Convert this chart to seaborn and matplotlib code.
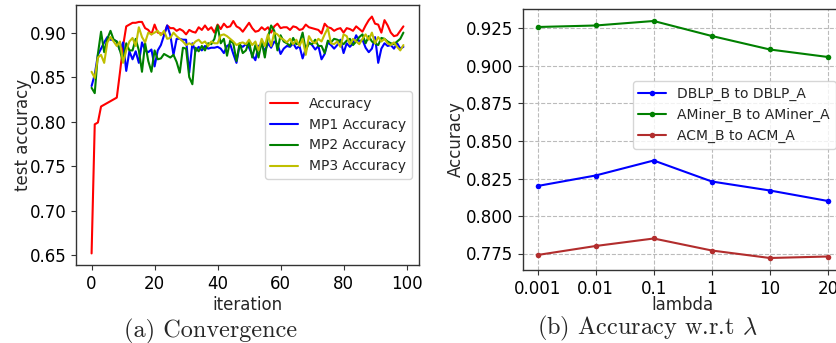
import numpy as np
import pandas as pd
import matplotlib
matplotlib.use("Agg")
import matplotlib.pyplot as plt
import seaborn as sns

# ==================================================
#* Dados
# ==================================================
iteracoes = list(range(100))

acc = [0.652, 0.797, 0.799, 0.817, 0.819, 0.821, 0.823, 0.825, 0.827, 0.855,
       0.885, 0.907, 0.909, 0.911, 0.911, 0.912, 0.912, 0.905, 0.903, 0.898,
       0.909, 0.900, 0.899, 0.898, 0.908, 0.905, 0.905, 0.902, 0.904, 0.902,
       0.898, 0.903, 0.901, 0.900, 0.906, 0.903, 0.908, 0.903, 0.906, 0.900,
       0.909, 0.904, 0.910, 0.906, 0.907, 0.913, 0.907, 0.905, 0.901, 0.906,
       0.911, 0.905, 0.901, 0.902, 0.906, 0.903, 0.906, 0.900, 0.907, 0.910,
       0.905, 0.906, 0.906, 0.903, 0.907, 0.906, 0.903, 0.904, 0.909, 0.906,
       0.905, 0.904, 0.903, 0.899, 0.910, 0.906, 0.905, 0.902, 0.904, 0.905,
       0.900, 0.905, 0.904, 0.902, 0.907, 0.904, 0.901, 0.908, 0.914, 0.918,
       0.910, 0.909, 0.900, 0.914, 0.908, 0.900, 0.896, 0.897, 0.902, 0.907]

mp1 = [0.840, 0.853, 0.875, 0.882, 0.889, 0.895, 0.892, 0.892, 0.890, 0.880,
       0.889, 0.857, 0.879, 0.870, 0.879, 0.866, 0.889, 0.880, 0.878, 0.881,
       0.862, 0.880, 0.886, 0.897, 0.908, 0.897, 0.875, 0.893, 0.893, 0.892,
       0.892, 0.855, 0.888, 0.879, 0.884, 0.880, 0.885, 0.882, 0.883, 0.883,
       0.884, 0.882, 0.877, 0.885, 0.887, 0.876, 0.866, 0.886, 0.884, 0.887,
       0.883, 0.875, 0.869, 0.885, 0.887, 0.879, 0.888, 0.883, 0.890, 0.887,
       0.876, 0.882, 0.885, 0.884, 0.888, 0.882, 0.885, 0.871, 0.882, 0.889,
       0.886, 0.881, 0.885, 0.870, 0.876, 0.889, 0.886, 0.882, 0.886, 0.892,
       0.877, 0.888, 0.884, 0.888, 0.897, 0.890, 0.892, 0.883, 0.878, 0.882,
       0.895, 0.866, 0.882, 0.888, 0.885, 0.886, 0.882, 0.888, 0.882, 0.884]

mp2 = [0.838, 0.832, 0.876, 0.901, 0.878, 0.893, 0.902, 0.892, 0.890, 0.880,
       0.867, 0.888, 0.880, 0.880, 0.893, 0.880, 0.856, 0.888, 0.868, 0.856,
       0.880, 0.870, 0.871, 0.876, 0.874, 0.872, 0.875, 0.867, 0.855, 0.883,
       0.882, 0.850, 0.842, 0.883, 0.879, 0.885, 0.880, 0.888, 0.887, 0.893,
       0.908, 0.888, 0.893, 0.874, 0.891, 0.888, 0.868, 0.888, 0.877, 0.880,
       0.890, 0.872, 0.886, 0.872, 0.890, 0.872, 0.895, 0.908, 0.902, 0.880,
       0.897, 0.890, 0.888, 0.885, 0.894, 0.887, 0.888, 0.900, 0.880, 0.888,
       0.887, 0.892, 0.885, 0.885, 0.877, 0.891, 0.889, 0.893, 0.892, 0.890,
       0.887, 0.891, 0.893, 0.886, 0.890, 0.895, 0.898, 0.888, 0.896, 0.890,
       0.888, 0.886, 0.894, 0.893, 0.890, 0.888, 0.887, 0.890, 0.893, 0.900]

mp3 = [0.856, 0.849, 0.872, 0.875, 0.866, 0.889, 0.895, 0.890, 0.885, 0.890,
       0.866, 0.880, 0.890, 0.894, 0.885, 0.906, 0.895, 0.889, 0.900, 0.898,
       0.900, 0.902, 0.897, 0.902, 0.893, 0.894, 0.900, 0.896, 0.893, 0.890,
       0.886, 0.888, 0.886, 0.890, 0.892, 0.888, 0.890, 0.885, 0.890, 0.888,
       0.888, 0.897, 0.898, 0.896, 0.893, 0.890, 0.886, 0.888, 0.889, 0.887,
       0.892, 0.886, 0.890, 0.880, 0.893, 0.885, 0.898, 0.885, 0.900, 0.898,
       0.894, 0.892, 0.889, 0.893, 0.887, 0.892, 0.885, 0.893, 0.875, 0.896,
       0.890, 0.888, 0.893, 0.890, 0.898, 0.905, 0.888, 0.887, 0.890, 0.884,
       0.898, 0.896, 0.887, 0.893, 0.890, 0.887, 0.893, 0.898, 0.892, 0.900,
       0.888, 0.895, 0.890, 0.893, 0.888, 0.886, 0.889, 0.884, 0.880, 0.886]

lambdas = ["0.001", "0.01", "0.1", "1", "10", "20"]
dblp = [0.820, 0.827, 0.837, 0.823, 0.817, 0.810]
aminer = [0.926, 0.927, 0.930, 0.920, 0.911, 0.906]
acm = [0.774, 0.780, 0.785, 0.777, 0.772, 0.773]

# ==================================================
#* Tabelas longas para o seaborn
# ==================================================
series_a = {"Accuracy": acc, "MP1 Accuracy": mp1,
            "MP2 Accuracy": mp2, "MP3 Accuracy": mp3}
df_a = pd.concat([pd.DataFrame({"iteration": iteracoes, "acc": v, "serie": k})
                  for k, v in series_a.items()], ignore_index=True)

series_b = {"DBLP_B to DBLP_A": dblp, "AMiner_B to AMiner_A": aminer,
            "ACM_B to ACM_A": acm}
df_b = pd.concat([pd.DataFrame({"pos": np.arange(len(lambdas)), "acc": v, "serie": k})
                  for k, v in series_b.items()], ignore_index=True)

# ==================================================
#* Configuração visual
# ==================================================
sns.set_theme(style="ticks", rc={"axes.edgecolor": "#333333",
                                 "axes.linewidth": 1.0,
                                 "xtick.color": "#333333",
                                 "ytick.color": "#333333",
                                 "xtick.labelcolor": "black",
                                 "ytick.labelcolor": "black",
                                 "xtick.major.size": 3.5,
                                 "ytick.major.size": 3.5,
                                 "xtick.major.width": 0.8,
                                 "ytick.major.width": 0.8,
                                 "xtick.major.pad": 3.5,
                                 "ytick.major.pad": 3.5})
plt.rcParams["font.family"] = ["DejaVu Sans"]
plt.rcParams["mathtext.fontset"] = "cm"

fig = plt.figure(figsize=(8.37, 3.43), dpi=100)
W, H = 837, 343
ax1 = fig.add_axes([76 / W, 1 - 265 / H, (419 - 76) / W, 260 / H])
ax2 = fig.add_axes([523 / W, 1 - 270 / H, (842.5 - 523) / W, 261 / H])

#* (a) Convergência
cores_a = {"Accuracy": "red", "MP1 Accuracy": "blue",
           "MP2 Accuracy": "green", "MP3 Accuracy": "#bfbf00"}
sns.lineplot(data=df_a, x="iteration", y="acc", hue="serie",
             palette=cores_a, linewidth=1.5, ax=ax1)
ax1.set_xlabel("iteration", fontsize=12, labelpad=2)
ax1.set_ylabel("test accuracy", fontsize=12, labelpad=-2)
ax1.set_xticks([0, 20, 40, 60, 80, 100])
ax1.set_yticks([0.65, 0.70, 0.75, 0.80, 0.85, 0.90])
ax1.set_yticklabels([f"{v:.2f}" for v in ax1.get_yticks()])
ax1.tick_params(labelsize=12)
ax1.set_xlim(-4.95, 103.95)
ax1.set_ylim(0.639, 0.931)
ax1.legend(loc="center right", fontsize=10, frameon=True)

#* (b) Acurácia por lambda
cores_b = {"DBLP_B to DBLP_A": "blue", "AMiner_B to AMiner_A": "green",
           "ACM_B to ACM_A": "#b22d2d"}
sns.lineplot(data=df_b, x="pos", y="acc", hue="serie", palette=cores_b,
             marker="o", markersize=4, markeredgewidth=0, linewidth=1.5, ax=ax2)
ax2.set_xticks(range(len(lambdas)))
ax2.set_xticklabels(lambdas)
ax2.set_xlim(-0.25, 5.25)
ax2.set_ylim(0.764, 0.938)
ax2.set_yticks([0.775, 0.800, 0.825, 0.850, 0.875, 0.900, 0.925])
ax2.set_yticklabels([f"{v:.3f}" for v in ax2.get_yticks()])
ax2.grid(True, linestyle="--", color="#bbbbbb", linewidth=0.8)
ax2.set_xlabel("lambda", fontsize=12, labelpad=-1)
ax2.set_ylabel("Accuracy", fontsize=12, labelpad=1)
ax2.tick_params(labelsize=12)
ax2.legend(loc="upper right", bbox_to_anchor=(1.0, 0.75), fontsize=10, frameon=True)

#* Legendas das subfiguras
fig.text(211 / W, 1 - 331 / H, "(a) Convergence", ha="center", va="center",
         fontsize=17.5, family="cmr10")
fig.text(647 / W, 1 - 328 / H, r"(b) Accuracy w.r.t $\lambda$", ha="center",
         va="center", fontsize=17.5, family="cmr10")

fig.savefig("out.png", dpi=100)
